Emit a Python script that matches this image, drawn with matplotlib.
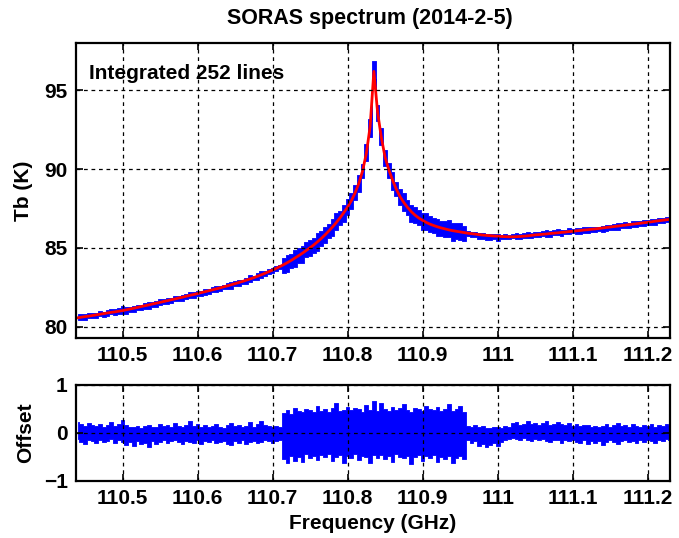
import matplotlib
matplotlib.use('Agg')

import matplotlib.pyplot as plt
from matplotlib.ticker import FuncFormatter
import numpy as np

plt.rcParams['font.family'] = ['Liberation Sans', 'DejaVu Sans']
plt.rcParams['font.weight'] = 'bold'

# spectrum sampled every 5 MHz starting at 110.44 GHz
f_start = 110.44
f_step = 0.005

# fitted brightness temperature (K)
tb_model = [
    80.57, 80.61, 80.65, 80.68, 80.72, 80.76, 80.80, 80.84, 80.88, 80.92,
    80.95, 80.99, 81.03, 81.08, 81.13, 81.18, 81.23, 81.29, 81.34, 81.39,
    81.45, 81.50, 81.55, 81.61, 81.66, 81.72, 81.77, 81.83, 81.88, 81.94,
    82.00, 82.05, 82.11, 82.17, 82.23, 82.29, 82.35, 82.41, 82.47, 82.54,
    82.60, 82.67, 82.74, 82.81, 82.88, 82.96, 83.04, 83.12, 83.21, 83.30,
    83.40, 83.50, 83.60, 83.71, 83.83, 83.95, 84.08, 84.22, 84.37, 84.52,
    84.68, 84.85, 85.02, 85.20, 85.40, 85.61, 85.84, 86.08, 86.34, 86.62,
    86.92, 87.25, 87.60, 88.00, 88.50, 89.10, 89.90, 91.00, 92.70, 96.20,
    93.60, 92.00, 90.75, 89.95, 89.30, 88.72, 88.25, 87.88, 87.57, 87.30,
    87.08, 86.90, 86.75, 86.62, 86.51, 86.42, 86.34, 86.27, 86.21, 86.15,
    86.10, 86.06, 86.02, 85.98, 85.94, 85.91, 85.88, 85.85, 85.82, 85.80,
    85.78, 85.76, 85.75, 85.73, 85.72, 85.71, 85.71, 85.72, 85.73, 85.75,
    85.77, 85.80, 85.83, 85.85, 85.87, 85.89, 85.92, 85.94, 85.96, 85.99,
    86.01, 86.04, 86.06, 86.09, 86.11, 86.14, 86.16, 86.19, 86.21, 86.24,
    86.27, 86.30, 86.33, 86.36, 86.39, 86.42, 86.45, 86.48, 86.51, 86.54,
    86.57, 86.60, 86.63, 86.66, 86.70, 86.73, 86.76, 86.79, 86.82,
]

# upper / lower extent of the measured-minus-fit residual in each 5 MHz bin
offset_hi = [
    0.22, 0.18, 0.15, 0.20, 0.16, 0.14, 0.19, 0.13, 0.17, 0.22,
    0.15, 0.18, 0.26, 0.16, 0.13, 0.12, 0.15, 0.11, 0.14, 0.17,
    0.13, 0.12, 0.19, 0.14, 0.16, 0.13, 0.20, 0.15, 0.12, 0.17,
    0.24, 0.14, 0.18, 0.13, 0.16, 0.12, 0.15, 0.19, 0.13, 0.11,
    0.16, 0.20, 0.14, 0.17, 0.12, 0.15, 0.22, 0.13, 0.18, 0.25,
    0.16, 0.14, 0.13, 0.15, 0.12,
    0.42, 0.48, 0.40, 0.52, 0.45, 0.44, 0.50, 0.47, 0.43, 0.55,
    0.46, 0.49, 0.44, 0.51, 0.62, 0.45, 0.48, 0.53, 0.47, 0.52,
    0.50, 0.44, 0.58, 0.48, 0.66, 0.46, 0.63, 0.49, 0.45, 0.54,
    0.47, 0.51, 0.60, 0.48, 0.44, 0.52, 0.49, 0.46, 0.57, 0.50,
    0.47, 0.53, 0.45, 0.49, 0.61, 0.46, 0.50, 0.55, 0.44,
    0.15, 0.13, 0.16, 0.12, 0.14, 0.11, 0.10, 0.12, 0.13, 0.11,
    0.14, 0.12, 0.20, 0.22, 0.17, 0.19, 0.24, 0.18, 0.21, 0.16,
    0.20, 0.25, 0.17, 0.19, 0.22, 0.18, 0.16, 0.21, 0.15, 0.18,
    0.14, 0.17, 0.16, 0.13, 0.15, 0.12, 0.14, 0.18, 0.13, 0.16,
    0.21, 0.14, 0.17, 0.13, 0.19, 0.15, 0.12, 0.16, 0.14, 0.18,
    0.13, 0.17, 0.15, 0.19, 0.16,
]
offset_lo = [
    -0.12, -0.19, -0.24, -0.15, -0.18, -0.21, -0.14, -0.20, -0.17, -0.13,
    -0.22, -0.16, -0.19, -0.25, -0.20, -0.27, -0.18, -0.23, -0.21, -0.29,
    -0.17, -0.24, -0.19, -0.15, -0.22, -0.18, -0.14, -0.20, -0.23, -0.17,
    -0.19, -0.21, -0.16, -0.24, -0.18, -0.20, -0.15, -0.22, -0.19, -0.17,
    -0.23, -0.26, -0.18, -0.21, -0.16, -0.24, -0.20, -0.17, -0.22, -0.19,
    -0.15, -0.18, -0.21, -0.17, -0.16,
    -0.55, -0.62, -0.48, -0.58, -0.50, -0.60, -0.45, -0.52, -0.49, -0.56,
    -0.47, -0.51, -0.44, -0.58, -0.50, -0.46, -0.62, -0.49, -0.53, -0.45,
    -0.57, -0.48, -0.50, -0.64, -0.47, -0.52, -0.46, -0.55, -0.49, -0.61,
    -0.45, -0.50, -0.53, -0.48, -0.65, -0.51, -0.46, -0.58, -0.49, -0.52,
    -0.47, -0.60, -0.50, -0.54, -0.48, -0.63, -0.52, -0.49, -0.55,
    -0.16, -0.22, -0.18, -0.27, -0.24, -0.29, -0.25, -0.21, -0.28, -0.19,
    -0.15, -0.12, -0.10, -0.13, -0.16, -0.11, -0.14, -0.18, -0.12, -0.15,
    -0.13, -0.17, -0.20, -0.14, -0.16, -0.22, -0.15, -0.18, -0.14, -0.19,
    -0.21, -0.16, -0.24, -0.18, -0.22, -0.17, -0.25, -0.20, -0.16, -0.19,
    -0.23, -0.17, -0.15, -0.20, -0.18, -0.22, -0.16, -0.19, -0.14, -0.17,
    -0.21, -0.15, -0.18, -0.13, -0.16,
]

freq_ticks = [110.5, 110.6, 110.7, 110.8, 110.9, 111.0, 111.1, 111.2]
tb_ticks = [80, 85, 90, 95]
offset_ticks = [-1, 0, 1]
n_lines = 252

tb_model = np.array(tb_model)
offset_hi = np.array(offset_hi)
offset_lo = np.array(offset_lo)
freq = f_start + f_step * np.arange(len(tb_model))

fig = plt.figure(figsize=(6.79, 5.38), dpi=100)
ax1 = fig.add_axes([0.112, 0.372, 0.875, 0.548])
ax2 = fig.add_axes([0.112, 0.1065, 0.875, 0.178])

# measured spectrum (fit + residual) and the fit on top
ax1.fill_between(freq, tb_model + offset_lo, tb_model + offset_hi, step='mid',
                 color='#0000ff', lw=0.6)
ax1.plot(freq, tb_model, color='#ff0000', lw=2.0)
ax1.set_ylim(79.3, 98.0)
ax1.set_yticks(tb_ticks)
ax1.set_ylabel('Tb (K)', fontsize=15, fontweight='bold')
ax1.yaxis.set_label_coords(-0.072, 0.5)
ax1.text(0.022, 0.898, 'Integrated %d lines' % n_lines, transform=ax1.transAxes,
         fontsize=15, fontweight='bold', va='center', ha='left')
fig.text(0.545, 0.9665, 'SORAS spectrum (2014-2-5)', fontsize=15.5,
         fontweight='bold', ha='center', va='center')

# residual
ax2.fill_between(freq, offset_lo, offset_hi, step='mid', color='#0000ff', lw=0.6)
ax2.set_ylim(-1, 1)
ax2.set_yticks(offset_ticks)
ax2.set_ylabel('Offset', fontsize=15, fontweight='bold')
ax2.yaxis.set_label_coords(-0.069, 0.5)
ax2.set_xlabel('Frequency (GHz)', fontsize=15, fontweight='bold', labelpad=4)

for ax in (ax1, ax2):
    ax.set_xlim(110.438, 111.23)
    ax.set_xticks(freq_ticks)
    ax.xaxis.set_major_formatter(FuncFormatter(lambda v, p: '%g' % round(v, 1)))
    ax.grid(True, color='black', linestyle=(0, (3, 3)), linewidth=0.9)
    ax.set_axisbelow(False)
    ax.tick_params(direction='in', length=5, width=1.2, top=True, right=True,
                   labelsize=15, pad=6)
    for lab in ax.get_xticklabels() + ax.get_yticklabels():
        lab.set_fontweight('bold')
    for sp in ax.spines.values():
        sp.set_linewidth(1.6)

plt.savefig('out.png', dpi=100)
